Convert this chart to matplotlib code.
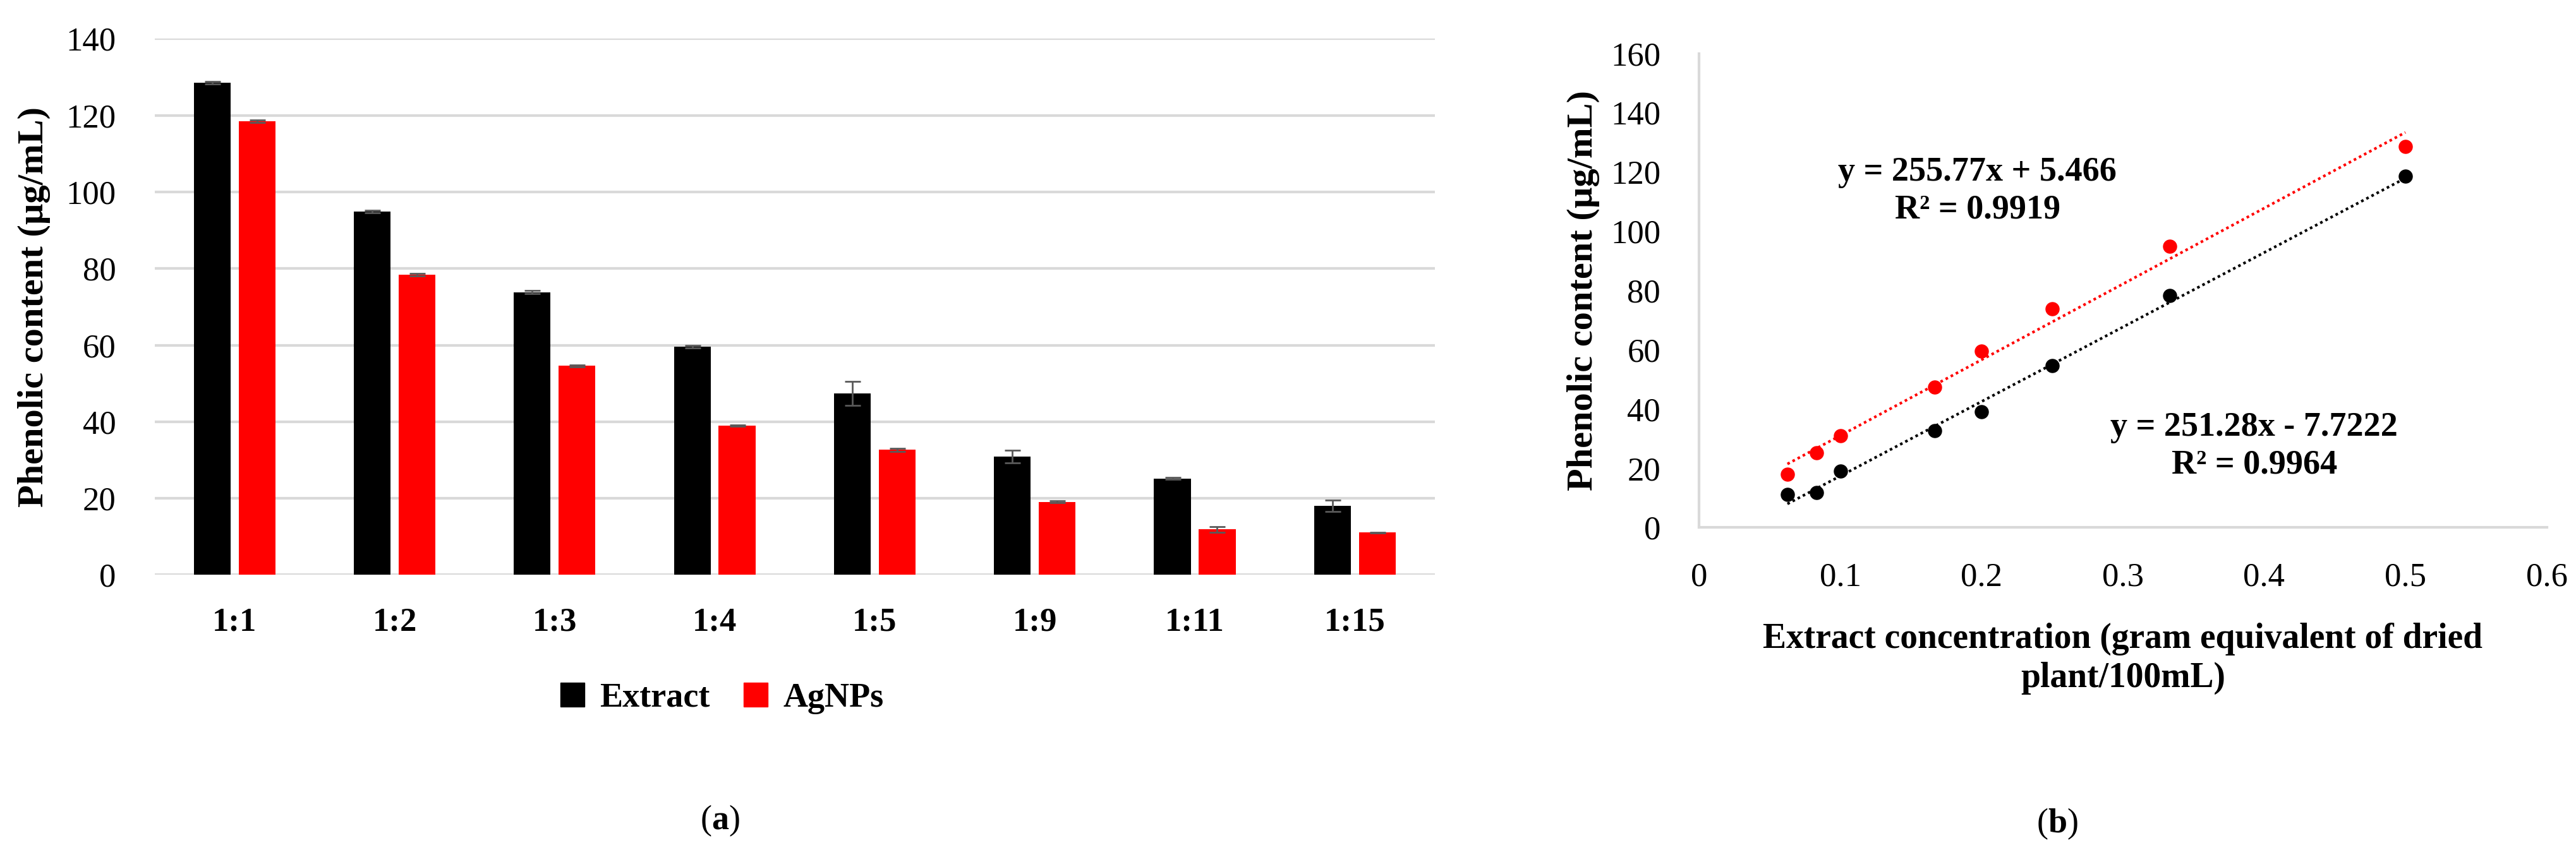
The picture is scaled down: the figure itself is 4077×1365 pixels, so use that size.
import numpy as np
import matplotlib
matplotlib.use('Agg')
import matplotlib.pyplot as plt
from matplotlib.patches import Patch

plt.rcParams['font.family'] = ['Liberation Serif', 'DejaVu Serif']
plt.rcParams['mathtext.fontset'] = 'custom'
plt.rcParams['mathtext.rm'] = 'Liberation Serif'
plt.rcParams['mathtext.bf'] = 'Liberation Serif:bold'

# (a) bar chart data
ratios = ['1:1', '1:2', '1:3', '1:4', '1:5', '1:9', '1:11', '1:15']
extract = [128.5, 94.9, 73.8, 59.6, 47.4, 30.9, 25.2, 18.0]
extract_err = [0.3, 0.3, 0.4, 0.4, 3.1, 1.7, 0.3, 1.5]
agnps = [118.5, 78.4, 54.6, 39.0, 32.7, 19.1, 11.9, 11.1]
agnps_err = [0.3, 0.3, 0.3, 0.2, 0.4, 0.2, 0.7, 0.1]

# (b) scatter data (gram equivalent / 100 mL)
conc = [0.5, 0.3333, 0.25, 0.2, 0.1667, 0.1, 0.0833, 0.0625]
fit_extract = (255.77, 5.466, 0.9919)
fit_agnps = (251.28, -7.7222, 0.9964)

FS_TICK = 38
FS_LAB = 42
FS_TXT = 39
GRID = '#d9d9d9'

fig = plt.figure(figsize=(40.77, 13.65), dpi=100)

# ---------- (a) ----------
ax1 = fig.add_axes([0.060, 0.333, 0.497, 0.622])
x = np.arange(len(ratios))
w = 0.23
ax1.bar(x - 0.14, extract, w, color='black', yerr=extract_err, capsize=9,
        error_kw=dict(ecolor='#595959', elinewidth=2, capthick=2), label='Extract', zorder=3)
ax1.bar(x + 0.14, agnps, w, color='#ff0000', yerr=agnps_err, capsize=9,
        error_kw=dict(ecolor='#595959', elinewidth=2, capthick=2), label='AgNPs', zorder=3)
ax1.set_xlim(-0.5, len(ratios) - 0.5)
ax1.set_ylim(0, 140)
ax1.set_yticks(range(0, 141, 20))
ax1.set_xticks(x)
ax1.set_xticklabels(ratios, fontweight='bold')
ax1.yaxis.grid(True, color=GRID, linewidth=3, zorder=0)
ax1.set_axisbelow(True)
for s in ax1.spines.values():
    s.set_visible(False)
ax1.tick_params(axis='both', length=0, labelsize=FS_TICK)
ax1.tick_params(axis='x', pad=37)
ax1.tick_params(axis='y', pad=44)
ax1.set_ylabel('Phenolic content (µg/mL)', fontsize=FS_LAB, fontweight='bold')
ax1.yaxis.set_label_coords(-0.081, 0.5)

handles = [Patch(color='black', label='Extract'), Patch(color='#ff0000', label='AgNPs')]
fig.legend(handles=handles, loc='center', bbox_to_anchor=(0.2803, 0.190), ncol=2,
           frameon=False, prop=dict(size=FS_TXT, weight='bold'), handlelength=0.7,
           handleheight=0.7, handletextpad=0.45, columnspacing=1.0)
fig.text(0.2794, 0.0476, r'($\mathbf{a}$)', fontsize=FS_TXT, ha='center', va='center')

# ---------- (b) ----------
ax2 = fig.add_axes([0.6596, 0.388, 0.329, 0.550])
ax2.scatter(conc, extract, s=230, color='#ff0000', zorder=3)
ax2.scatter(conc, agnps, s=230, color='black', zorder=3)
xs = np.array([min(conc), max(conc)])
ax2.plot(xs, fit_extract[0] * xs + fit_extract[1], linestyle=(0, (1, 1.2)), color='#ff0000', linewidth=3)
ax2.plot(xs, fit_agnps[0] * xs + fit_agnps[1], linestyle=(0, (1, 1.2)), color='black', linewidth=3)
ax2.set_xlim(0, 0.6)
ax2.set_ylim(0, 160)
ax2.set_xticks(np.arange(0, 0.61, 0.1))
ax2.set_xticklabels(['0', '0.1', '0.2', '0.3', '0.4', '0.5', '0.6'])
ax2.set_yticks(range(0, 161, 20))
for side in ['top', 'right']:
    ax2.spines[side].set_visible(False)
for side in ['left', 'bottom']:
    ax2.spines[side].set_color(GRID)
    ax2.spines[side].set_linewidth(3)
ax2.tick_params(axis='both', length=0, labelsize=FS_TICK)
ax2.tick_params(axis='x', pad=40)
ax2.tick_params(axis='y', pad=44)
ax2.set_ylabel('Phenolic content (µg/mL)', fontsize=FS_LAB, fontweight='bold')
ax2.yaxis.set_label_coords(-0.117, 0.5)
ax2.text(0.5, -0.276, 'Extract concentration (gram equivalent of dried\nplant/100mL)',
         transform=ax2.transAxes, ha='center', va='center', fontsize=40,
         fontweight='bold', linespacing=1.25)

ax2.text(0.197, 113.5, f'y = {fit_extract[0]}x + {fit_extract[1]}\nR² = {fit_extract[2]}',
         ha='center', va='center', fontsize=FS_TXT, fontweight='bold', linespacing=1.25)
ax2.text(0.393, 27.5, f'y = {fit_agnps[0]}x - {abs(fit_agnps[1])}\nR² = {fit_agnps[2]}',
         ha='center', va='center', fontsize=FS_TXT, fontweight='bold', linespacing=1.25)
fig.text(0.7986, 0.044, r'($\mathbf{b}$)', fontsize=FS_TXT, ha='center', va='center')

fig.savefig('out.png', dpi=100, facecolor='white')
